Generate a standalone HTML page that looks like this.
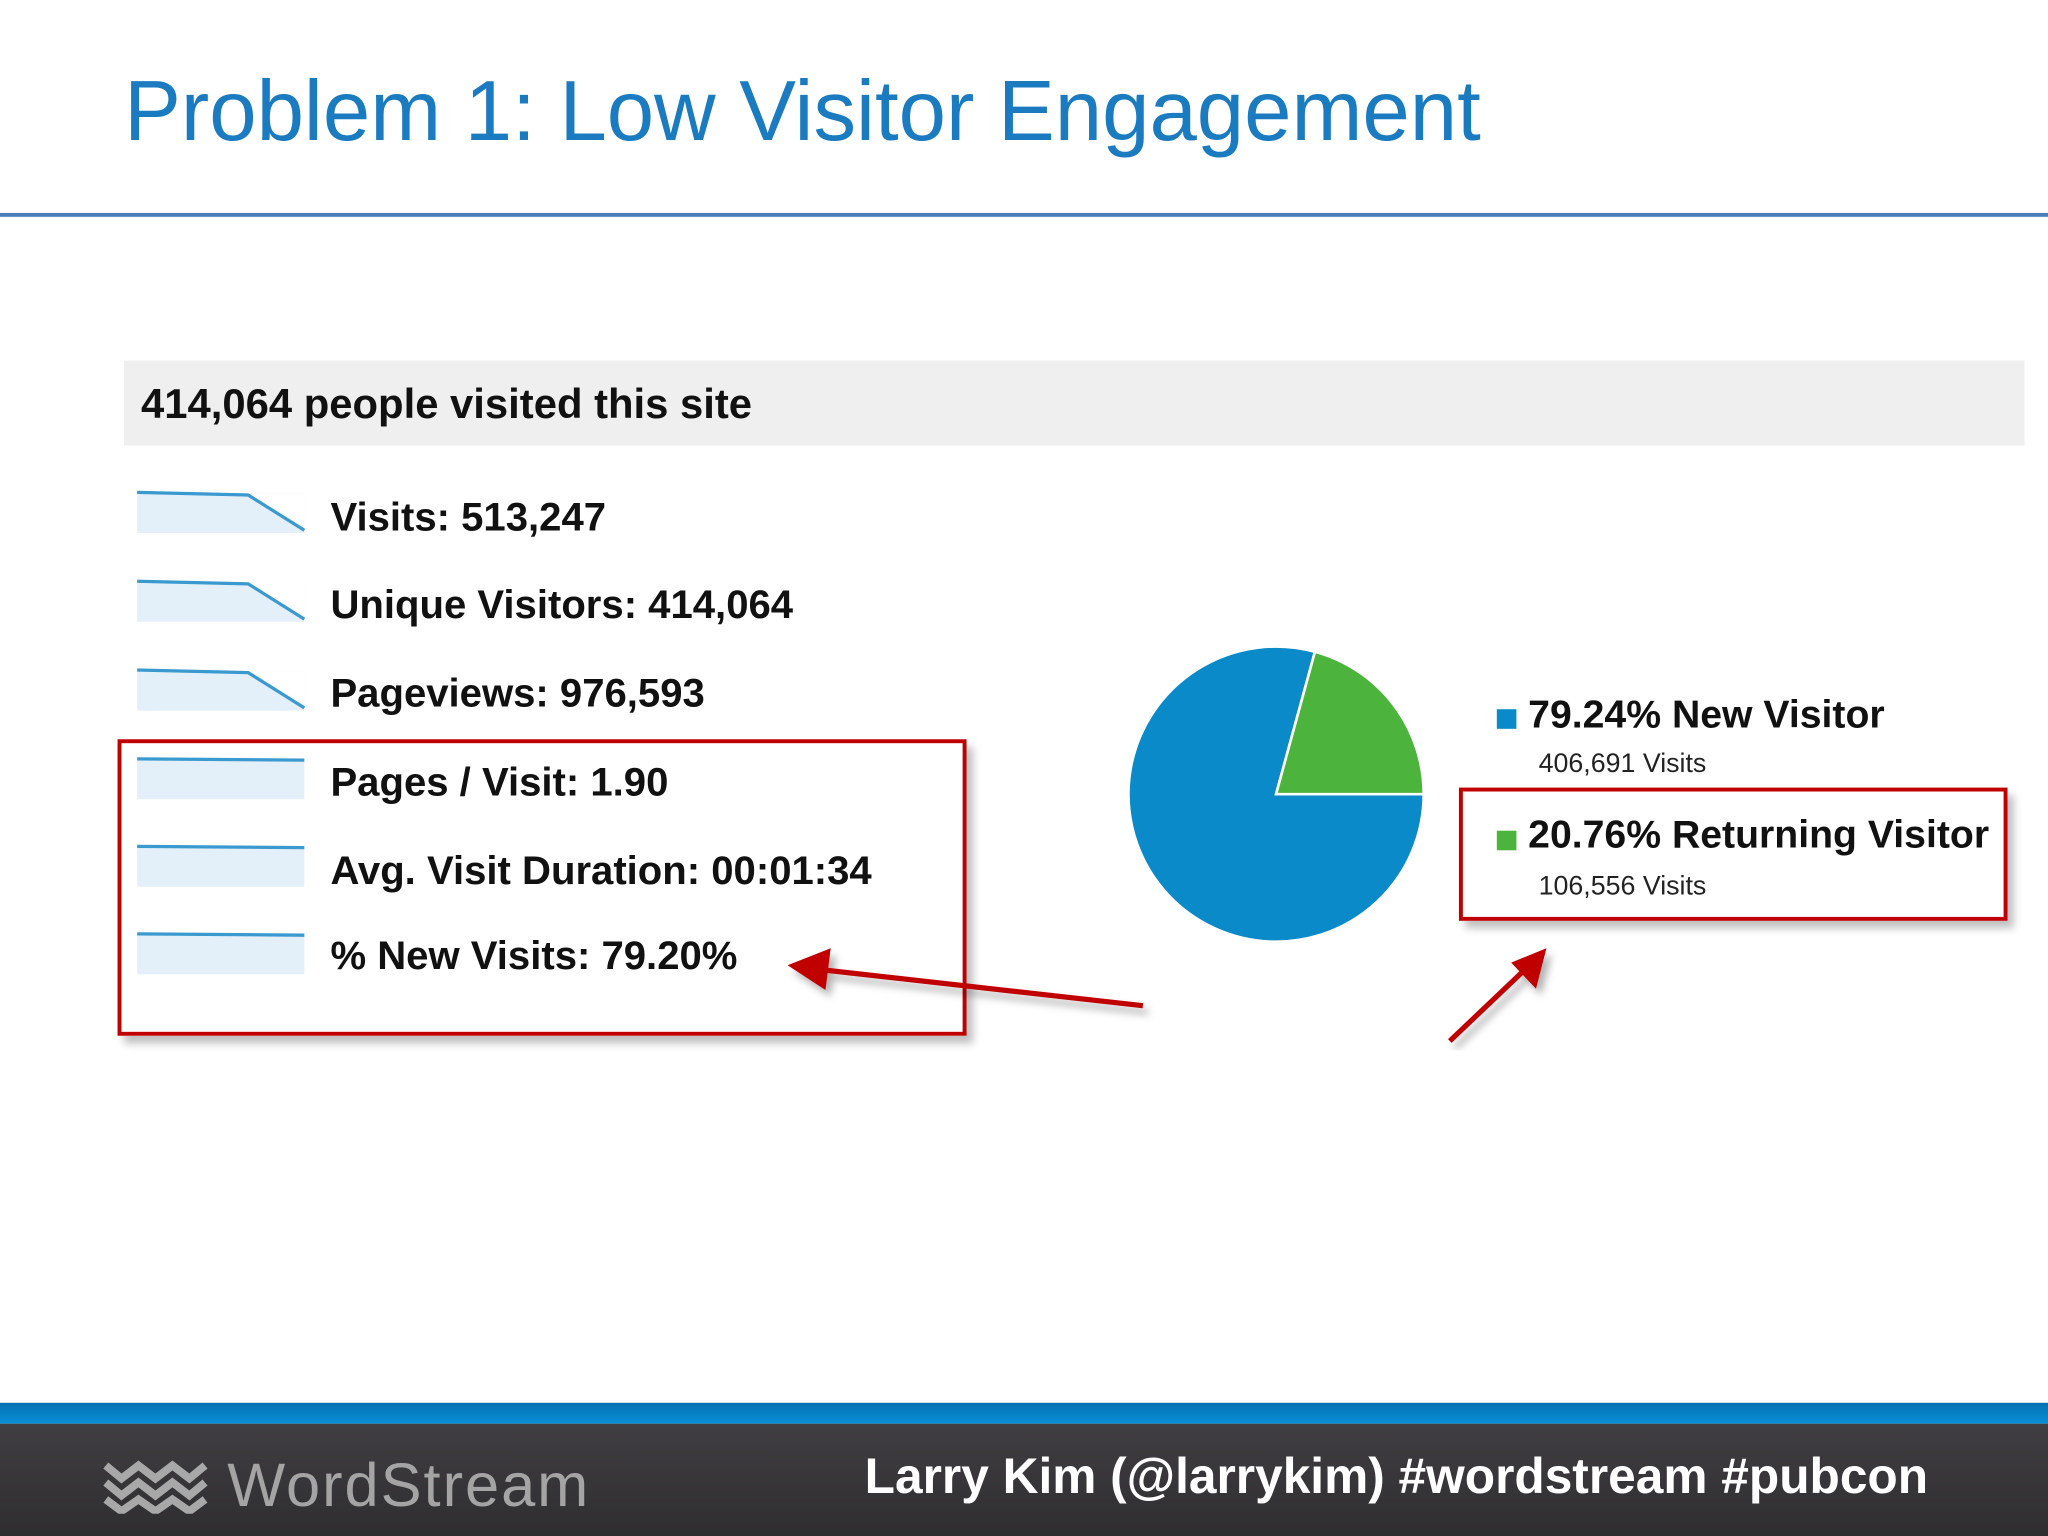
<!DOCTYPE html>
<html><head><meta charset="utf-8"><style>
html,body{margin:0;padding:0;width:2048px;height:1536px;overflow:hidden;background:#fff;}
#s{position:absolute;left:0;top:0;width:1568px;height:1176px;transform:scale(1.306122);transform-origin:0 0;font-family:"Liberation Sans",sans-serif;}
.a{position:absolute;}
.m{position:absolute;left:253px;font-size:30.7px;font-weight:bold;color:#111;white-space:nowrap;}
</style></head><body>
<div id="s">
<div class="a" style="left:95px;top:47px;font-size:65.2px;color:#1a7bc0;white-space:nowrap;">Problem 1: Low Visitor Engagement</div>
<div class="a" style="left:0;top:163px;width:1568px;height:3px;background:#4a7ebb;"></div>
<div class="a" style="left:95px;top:276px;width:1455px;height:65px;background:#efefef;"></div>
<div class="a" style="left:108px;top:291px;font-size:32px;font-weight:bold;color:#111;white-space:nowrap;">414,064 people visited this site</div>

<svg class="a" style="left:0;top:0" width="1568" height="1176">
<g fill="#e3f0fa" stroke="none">
<rect x="105" y="378" width="128" height="30"/><rect x="105" y="446" width="128" height="30"/><rect x="105" y="514" width="128" height="30"/>
<rect x="105" y="582" width="128" height="30"/><rect x="105" y="649" width="128" height="30"/><rect x="105" y="716" width="128" height="30"/>
</g>
<g fill="#fff"><polygon points="190,378 233,378 233,406"/><polygon points="190,446 233,446 233,474"/><polygon points="190,514 233,514 233,542"/></g>
<g fill="none" stroke="#3a9ad0" stroke-width="2.5">
<polyline points="105,377 190,379 233,406"/><polyline points="105,445 190,447 233,474"/><polyline points="105,513 190,515 233,542"/>
<line x1="105" y1="581" x2="233" y2="582"/><line x1="105" y1="648" x2="233" y2="649"/><line x1="105" y1="715" x2="233" y2="716"/>
</g>
</svg>
<div class="m" style="top:378px;">Visits: 513,247</div>
<div class="m" style="top:445px;">Unique Visitors: 414,064</div>
<div class="m" style="top:513px;">Pageviews: 976,593</div>
<div class="m" style="top:581px;">Pages / Visit: 1.90</div>
<div class="m" style="top:649px;">Avg. Visit Duration: 00:01:34</div>
<div class="m" style="top:714px;">% New Visits: 79.20%</div>

<div class="a" style="left:90px;top:566px;width:644px;height:221px;border:3px solid #c00000;box-shadow:5px 6px 6px rgba(0,0,0,0.25);"></div>
<div class="a" style="left:1117px;top:603px;width:414px;height:96px;border:3px solid #c00000;box-shadow:5px 6px 6px rgba(0,0,0,0.25);"></div>

<svg id="pie" class="a" style="left:0;top:0" width="1568" height="1176"></svg>

<div class="a" style="left:1146px;top:543px;width:15px;height:15px;background:#0a8ac8;"></div>
<div class="a" style="left:1170px;top:531px;font-size:30px;font-weight:bold;color:#111;white-space:nowrap;">79.24% New Visitor</div>
<div class="a" style="left:1178px;top:573px;font-size:20.5px;color:#222;white-space:nowrap;">406,691 Visits</div>
<div class="a" style="left:1146px;top:636px;width:15px;height:15px;background:#4cb43c;"></div>
<div class="a" style="left:1170px;top:623px;font-size:30px;font-weight:bold;color:#111;white-space:nowrap;">20.76% Returning Visitor</div>
<div class="a" style="left:1178px;top:667px;font-size:20.5px;color:#222;white-space:nowrap;">106,556 Visits</div>

<svg class="a" style="left:0;top:0" width="1568" height="1176">
<defs><filter id="sh"><feDropShadow dx="4" dy="5" stdDeviation="3" flood-opacity="0.3"/></filter></defs>
<g filter="url(#sh)" fill="#c00000" stroke="#c00000">
<line x1="875" y1="770" x2="625" y2="742" stroke-width="4"/>
<polygon points="603,739 636,726 632,758" stroke="none"/>
<line x1="1110" y1="797" x2="1170" y2="740" stroke-width="4"/>
<polygon points="1184,726 1176,757 1157,737" stroke="none"/>
</g>
</svg>

<div class="a" style="left:0;top:1074px;width:1568px;height:16px;background:linear-gradient(#0570b0,#0890d8);"></div>
<div class="a" style="left:0;top:1090px;width:1568px;height:86px;background:linear-gradient(#403e42,#2e2d2f);"></div>
<svg class="a" style="left:78px;top:1117px" width="82" height="42">
<g fill="none" stroke="#a8a8a8" stroke-width="6"><path d="M3,5 L15,15 L28,5 L41,15 L54,5 L67,15 L79,5"/><path d="M3,18 L15,28 L28,18 L41,28 L54,18 L67,28 L79,18"/><path d="M3,31 L15,40 L28,31 L41,40 L54,31 L67,40 L79,31"/></g>
</svg>
<div class="a" style="left:174px;top:1109px;font-size:47px;color:#a4a4a4;white-space:nowrap;letter-spacing:1.5px;">WordStream</div>
<div class="a" style="left:662px;top:1110px;font-size:38px;font-weight:bold;color:#fff;white-space:nowrap;">Larry Kim (@larrykim) #wordstream #pubcon</div>
</div>
<script>
const categories = ["New Visitor", "Returning Visitor"];
const values = [79.24, 20.76];
const colors = ["#0a8ac8", "#4cb43c"];
const svg = document.getElementById('pie');
const cx = 977, cy = 608, r = 113;
const total = values.reduce((a,b)=>a+b,0);
let start = 90 - values[1]/total*360 - values[0]/total*360;
function pt(a){const t=(a-90)*Math.PI/180;return [cx+r*Math.cos(t), cy+r*Math.sin(t)];}
values.forEach((v,i)=>{
  const sweep = v/total*360;
  const [x1,y1]=pt(start),[x2,y2]=pt(start+sweep);
  const p=document.createElementNS('http://www.w3.org/2000/svg','path');
  p.setAttribute('d',`M${cx},${cy} L${x1},${y1} A${r},${r} 0 ${sweep>180?1:0} 1 ${x2},${y2} Z`);
  p.setAttribute('fill',colors[i]);
  p.setAttribute('stroke','#fff');
  p.setAttribute('stroke-width','2');
  
  
  svg.appendChild(p);
  start += sweep;
});
</script>
</body></html>
